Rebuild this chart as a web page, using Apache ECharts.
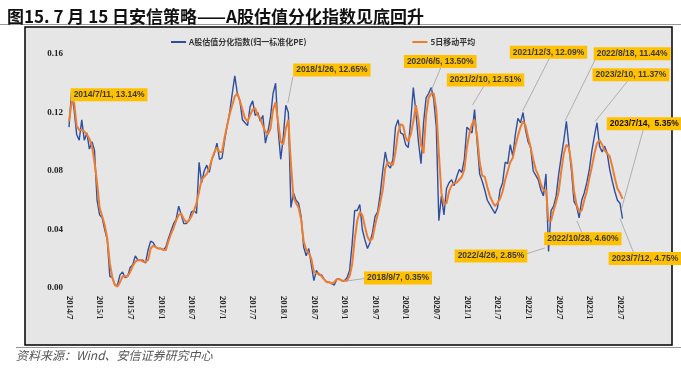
<!DOCTYPE html>
<html>
<head>
<meta charset="utf-8">
<script src="https://cdn.jsdelivr.net/npm/echarts@6/dist/echarts.min.js"></script>
<style>
  html, body { margin: 0; padding: 0; background: #fff; }
  #chart { width: 681px; height: 368px; }
</style>
</head>
<body>
<div id="chart"></div>
<script>
// x = half-month steps from 2014/7 (0) to 2023/7 (216)
const tickLabels = ['2014/7', '2015/1', '2015/7', '2016/1', '2016/7', '2017/1', '2017/7', '2018/1', '2018/7',
  '2019/1', '2019/7', '2020/1', '2020/7', '2021/1', '2021/7', '2022/1', '2022/7', '2023/1', '2023/7'];

// A股估值分化指数(归一标准化PE)
const dispersion = [
  0.110, 0.134, 0.122, 0.105, 0.101, 0.115, 0.101, 0.106, 0.095, 0.100,
  0.094, 0.060, 0.050, 0.048, 0.040, 0.033, 0.008, 0.007, 0.002, 0.002,
  0.009, 0.011, 0.007, 0.008, 0.014, 0.016, 0.022, 0.019, 0.019, 0.019,
  0.017, 0.026, 0.032, 0.031, 0.028, 0.027, 0.027, 0.026, 0.028, 0.034,
  0.039, 0.044, 0.047, 0.056, 0.050, 0.044, 0.044, 0.046, 0.052, 0.053,
  0.051, 0.086, 0.072, 0.080, 0.084, 0.079, 0.088, 0.092, 0.099, 0.088,
  0.089, 0.101, 0.111, 0.120, 0.133, 0.145, 0.133, 0.128, 0.115, 0.113,
  0.111, 0.124, 0.128, 0.118, 0.120, 0.114, 0.118, 0.099, 0.107, 0.117,
  0.133, 0.140, 0.108, 0.088, 0.103, 0.125, 0.120, 0.055, 0.065, 0.060,
  0.058, 0.049, 0.028, 0.022, 0.027, 0.016, 0.005, 0.012, 0.009, 0.009,
  0.006, 0.004, 0.004, 0.003, 0.002, 0.006, 0.006, 0.005, 0.005, 0.007,
  0.012, 0.030, 0.053, 0.053, 0.057, 0.040, 0.033, 0.027, 0.031, 0.038,
  0.049, 0.052, 0.064, 0.080, 0.093, 0.084, 0.082, 0.088, 0.110, 0.115,
  0.106, 0.105, 0.098, 0.096, 0.115, 0.137, 0.120, 0.100, 0.085, 0.113,
  0.130, 0.133, 0.137, 0.129, 0.110, 0.046, 0.063, 0.050, 0.068, 0.072,
  0.074, 0.070, 0.076, 0.081, 0.079, 0.088, 0.110, 0.108, 0.106, 0.122,
  0.100, 0.078, 0.073, 0.067, 0.060, 0.057, 0.054, 0.051, 0.055, 0.067,
  0.072, 0.086, 0.085, 0.098, 0.090, 0.105, 0.116, 0.113, 0.120, 0.108,
  0.100, 0.096, 0.080, 0.077, 0.074, 0.067, 0.063, 0.078, 0.025, 0.053,
  0.056, 0.063, 0.078, 0.090, 0.101, 0.114, 0.097, 0.080, 0.059, 0.056,
  0.048, 0.060, 0.065, 0.072, 0.081, 0.094, 0.104, 0.113, 0.097, 0.093,
  0.097, 0.092, 0.081, 0.073, 0.066, 0.060, 0.058, 0.0475
];

// 5日移动平均
const movingAvg = [
  0.114, 0.127, 0.127, 0.111, 0.108, 0.108, 0.107, 0.105, 0.102, 0.097,
  0.086, 0.072, 0.055, 0.049, 0.043, 0.034, 0.017, 0.007, 0.002, 0.001,
  0.004, 0.008, 0.008, 0.008, 0.011, 0.015, 0.018, 0.019, 0.019, 0.018,
  0.018, 0.019, 0.027, 0.029, 0.028, 0.027, 0.027, 0.026, 0.026, 0.032,
  0.037, 0.041, 0.046, 0.050, 0.051, 0.047, 0.045, 0.046, 0.049, 0.053,
  0.058, 0.066, 0.074, 0.076, 0.078, 0.082, 0.088, 0.093, 0.096, 0.093,
  0.093, 0.103, 0.111, 0.119, 0.125, 0.131, 0.133, 0.128, 0.122, 0.116,
  0.114, 0.118, 0.122, 0.123, 0.118, 0.116, 0.111, 0.107, 0.105, 0.109,
  0.122, 0.127, 0.113, 0.100, 0.098, 0.109, 0.115, 0.085, 0.062, 0.058,
  0.055, 0.047, 0.032, 0.026, 0.024, 0.020, 0.011, 0.010, 0.010, 0.008,
  0.006, 0.004, 0.004, 0.003, 0.004, 0.006, 0.006, 0.005, 0.005, 0.005,
  0.008, 0.016, 0.033, 0.046, 0.052, 0.050, 0.042, 0.035, 0.032, 0.034,
  0.043, 0.050, 0.058, 0.067, 0.082, 0.086, 0.085, 0.084, 0.093, 0.106,
  0.112, 0.111, 0.103, 0.100, 0.105, 0.114, 0.125, 0.115, 0.098, 0.092,
  0.118, 0.130, 0.133, 0.133, 0.122, 0.092, 0.065, 0.057, 0.058, 0.066,
  0.070, 0.072, 0.072, 0.074, 0.076, 0.081, 0.096, 0.106, 0.112, 0.115,
  0.104, 0.086, 0.077, 0.076, 0.069, 0.063, 0.059, 0.056, 0.058, 0.061,
  0.066, 0.074, 0.080, 0.086, 0.089, 0.097, 0.104, 0.110, 0.114, 0.111,
  0.103, 0.096, 0.088, 0.081, 0.077, 0.071, 0.067, 0.067, 0.046, 0.046,
  0.053, 0.059, 0.066, 0.080, 0.092, 0.098, 0.096, 0.084, 0.066, 0.057,
  0.052, 0.053, 0.060, 0.066, 0.075, 0.083, 0.092, 0.099, 0.101, 0.098,
  0.094, 0.092, 0.090, 0.083, 0.075, 0.068, 0.065, 0.061
];

// callouts: data point, box offset (px), leader end offset (px)
const notes = [
  { text: '2014/7/11, 13.14%', at: [1.6, 0.1314], box: [36, -1], lead: null },
  { text: '2018/1/26, 12.65%', at: [85.8, 0.1265], box: [44, -33], lead: [5, -26] },
  { text: '2020/6/5, 13.50%', at: [142, 0.135], box: [9, -29], lead: [10, -24] },
  { text: '2021/2/10, 12.51%', at: [158.2, 0.1251], box: [13, -25], lead: [12, -20] },
  { text: '2021/12/3, 12.09%', at: [177.8, 0.1209], box: [26, -59], lead: [27, -53] },
  { text: '2022/8/18, 11.44%', at: [194.5, 0.1144], box: [67, -67], lead: [33, -67] },
  { text: '2023/2/10, 11.37%', at: [206.2, 0.1137], box: [36, -47], lead: [33, -41] },
  { text: '2023/7/14,  5.35%', at: [216.5, 0.0535], box: [23, -86], lead: [22, -80], dark: true },
  { text: '2018/9/7, 0.35%', at: [109, 0.0048], box: [51, -3], lead: [21, -3] },
  { text: '2022/4/26, 2.85%', at: [186.6, 0.0274], box: [-54, 8], lead: [-22, 7] },
  { text: '2022/10/28, 4.60%', at: [199.1, 0.046], box: [6, 18], lead: [5, 12] },
  { text: '2023/7/12, 4.75%', at: [216, 0.0475], box: [25, 40], lead: [14, 35] }
];

const chart = echarts.init(document.getElementById('chart'), null, { renderer: 'canvas' });

const option = {
  backgroundColor: '#fff',
  animation: false,
  title: {
    text: '图15. 7 月 15 日安信策略——A股估值分化指数见底回升',
    left: 2, top: 3,
    textStyle: { fontFamily: '"Noto Sans CJK SC", sans-serif', fontSize: 17, fontWeight: 'bold', color: '#111' }
  },
  graphic: [
    { type: 'line', z: -1, shape: { x1: 0, y1: 24.5, x2: 681, y2: 24.5 }, style: { stroke: '#999', lineWidth: 1 } },
    { type: 'rect', z: -1, shape: { x: 25, y: 27, width: 647, height: 318 }, style: { fill: '#e6e6e6', stroke: '#000', lineWidth: 1.5 } },
    { type: 'line', z: -1, shape: { x1: 16, y1: 347.5, x2: 681, y2: 347.5 }, style: { stroke: '#999', lineWidth: 1 } },
    {
      type: 'text', left: 16, top: 349,
      style: { text: '资料来源：Wind、安信证券研究中心', fill: '#555', font: 'italic 12px "Noto Sans CJK SC", sans-serif' }
    }
  ],
  legend: {
    top: 33, left: 166, itemGap: 106,
    icon: 'rect', itemWidth: 15, itemHeight: 2,
    textStyle: { fontSize: 8, fontWeight: 'bold', color: '#333', fontFamily: '"Noto Sans CJK SC", sans-serif', padding: [0, 0, 0, -2] },
    data: ['A股估值分化指数(归一标准化PE)', '5日移动平均']
  },
  grid: { left: 69, right: 58.5, top: 54, bottom: 80 },
  xAxis: {
    type: 'value', min: 0, max: 217, interval: 12,
    axisLine: { show: false }, axisTick: { show: false }, splitLine: { show: false },
    axisLabel: {
      rotate: -90, margin: 8, showMaxLabel: false,
      fontFamily: '"Liberation Serif", serif', fontWeight: 'bold', fontSize: 8.5, color: '#222',
      formatter: v => (v % 12 === 0 ? tickLabels[v / 12] : '')
    }
  },
  yAxis: {
    type: 'value', min: 0, max: 0.16, interval: 0.04,
    axisLine: { show: false }, axisTick: { show: false }, splitLine: { show: false },
    axisLabel: {
      margin: 6, fontFamily: '"Liberation Serif", serif', fontWeight: 'bold', fontSize: 9, color: '#222',
      formatter: v => v.toFixed(2)
    }
  },
  series: [
    {
      name: 'A股估值分化指数(归一标准化PE)', type: 'line', z: 2,
      showSymbol: false, symbol: 'none',
      lineStyle: { color: '#2f4f9e', width: 1.4 },
      itemStyle: { color: '#2f4f9e' },
      data: dispersion.map((v, i) => [i, v])
    },
    {
      name: '5日移动平均', type: 'line', z: 3,
      showSymbol: false, symbol: 'none',
      lineStyle: { color: '#ed7d31', width: 2 },
      itemStyle: { color: '#ed7d31' },
      data: movingAvg.map((v, i) => [i, v])
    },
    {
      type: 'custom', z: 10, silent: true, clip: false,
      data: notes.map(n => n.at),
      renderItem: (params, api) => {
        const n = notes[params.dataIndex];
        const p = api.coord([api.value(0), api.value(1)]);
        const kids = [];
        if (n.lead) {
          kids.push({
            type: 'line',
            shape: { x1: p[0], y1: p[1], x2: p[0] + n.lead[0], y2: p[1] + n.lead[1] },
            style: { stroke: '#a0a0a0', lineWidth: 0.8 }
          });
        }
        kids.push({
          type: 'text',
          x: p[0] + n.box[0], y: p[1] + n.box[1],
          style: {
            text: n.text, align: 'center', verticalAlign: 'middle',
            fill: n.dark ? '#111' : '#3a3a3a',
            font: 'bold 8.5px "Liberation Sans", sans-serif',
            backgroundColor: '#ffc000', padding: [2, 3, 2, 3],
            boxShadowBlur: 2, boxShadowColor: 'rgba(0,0,0,0.35)', boxShadowOffsetX: 1, boxShadowOffsetY: 1
          }
        });
        return { type: 'group', children: kids };
      }
    }
  ]
};

chart.setOption(option);
</script>
</body>
</html>
